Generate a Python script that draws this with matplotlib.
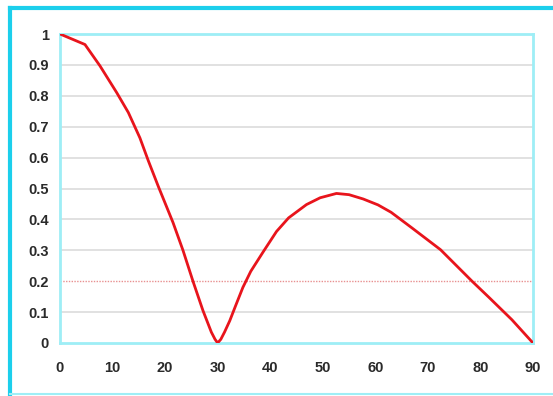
import matplotlib.pyplot as plt
from matplotlib.lines import Line2D

angle = [0, 4.75, 7.6, 10.8, 13, 15.2, 16.8, 18.7, 21.5, 23.4, 25.3, 27.2, 28.8, 29.5,
         30, 30.6, 31.3, 32.3, 33.4, 34.8, 36.3, 38.7, 41.2, 43.5, 46.9, 49.5, 52.6, 55,
         57.7, 60.5, 63, 67, 72.4, 78.4, 81.6, 86, 90]
value = [1.0, 0.966, 0.897, 0.81, 0.746, 0.664, 0.59, 0.507, 0.39, 0.30, 0.20, 0.105,
         0.035, 0.012, 0.0, 0.012, 0.035, 0.072, 0.12, 0.18, 0.232, 0.296, 0.361, 0.405,
         0.448, 0.47, 0.484, 0.48, 0.466, 0.447, 0.423, 0.372, 0.302, 0.2, 0.148, 0.075, 0.0]

x_ticks = list(range(0, 91, 10))
y_ticks = [0, 0.1, 0.2, 0.3, 0.4, 0.5, 0.6, 0.7, 0.8, 0.9, 1]
y_labels = ["0", "0.1", "0.2", "0.3", "0.4", "0.5", "0.6", "0.7", "0.8", "0.9", "1"]

fig = plt.figure(figsize=(5.53, 3.96), dpi=100)
ax = fig.add_axes([60 / 553, 53 / 396, 473 / 553, 309 / 396])

# horizontal grid, the 0.2 line is red dotted
for y in y_ticks[1:]:
    if y == 0.2:
        ax.axhline(y, color="#e89090", lw=1, ls=(0, (1, 1)), zorder=1)
    else:
        ax.axhline(y, color="#dcdcdc", lw=1.2, zorder=1)

ax.plot(angle, value, color="#e8141c", lw=2, zorder=3,
        solid_joinstyle="round", solid_capstyle="round")

ax.set_xlim(0, 90)
ax.set_ylim(0, 1)
ax.set_xticks(x_ticks)
ax.set_yticks(y_ticks)
ax.set_yticklabels(y_labels)
ax.tick_params(length=0, labelsize=10.5, labelcolor="#2a2a2a", pad=8)
for lab in ax.get_xticklabels() + ax.get_yticklabels():
    lab.set_fontweight("bold")
    lab.set_family("Liberation Sans")
ax.tick_params(axis="x", pad=13)
for s in ax.spines.values():
    s.set_color("#9eeef6")
    s.set_linewidth(2)

# outer frame of the picture
c = "#1ccfec"
fig.add_artist(Line2D([10 / 553, 10 / 553], [1 - 8 / 396, 1 - 394 / 396], color=c, lw=3, transform=fig.transFigure))
fig.add_artist(Line2D([10 / 553, 1.01], [1 - 8 / 396, 1 - 8 / 396], color=c, lw=3, transform=fig.transFigure))
fig.add_artist(Line2D([10 / 553, 1.01], [1 - 394 / 396, 1 - 394 / 396], color="#9eeef6", lw=1.5, transform=fig.transFigure))

fig.savefig("out.png", dpi=100)
